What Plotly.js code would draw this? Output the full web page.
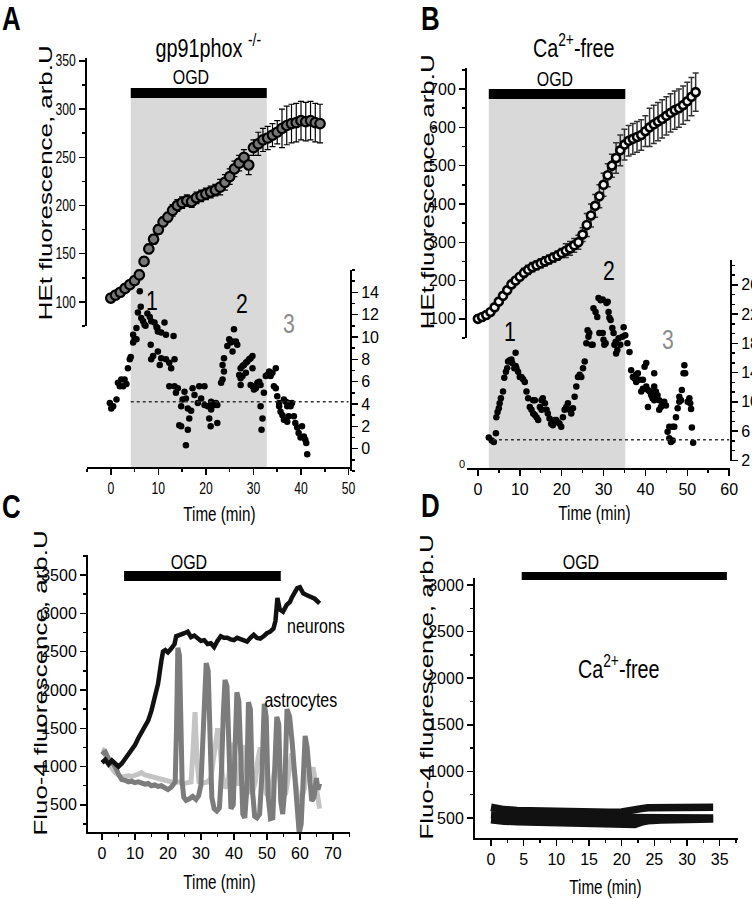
<!DOCTYPE html>
<html>
<head>
<meta charset="utf-8">
<script src="https://cdn.plot.ly/plotly-3.0.1.min.js"></script>
<style>
  body { margin: 0; background: #fff; }
  #plot { width: 752px; height: 899px; }
</style>
</head>
<body>
<div id="plot"></div>
<script>
// ---- Panel A : gp91phox -/- ----
const tA = [0,1,2,3,4,5,6,7,8,9,10,11,12,13,14,15,16,17,18,19,20,21,22,23,24,25,26,27,28,29,30,31,32,33,34,35,36,37,38,39,40,41,42,43,44];
const vA = [104,107,110,114,118,122,128,142,155,165,175,183,188,195,200,203,205,204,208,210,212,214,216,219,224,230,238,244,250,242,260,264,268,270,273,276,280,283,285,286,288,287,288,286,285];
const eA = [3,3,3,3,3,3,5,5,5,5,5,5,5,6,6,6,6,6,6,6,6,6,6,8,8,8,8,8,8,10,8,12,12,12,12,12,20,20,20,20,20,20,20,20,20];

const sAt = [-0.2,0.1,0.5,1.2,1.5,1.9,2.2,2.6,2.9,3.3,3.6,4.0,4.2,4.7,4.7,5.0,5.4,5.4,5.7,6.1,6.3,6.4,6.8,7.1,7.3,7.7,8.2,8.4,8.5,8.5,8.9,9.2,9.6,9.8,9.9,9.9,10.3,10.6,10.6,11.3,11.6,11.6,12.3,12.3,12.7,13.2,13.4,13.4,13.7,14.1,14.4,14.8,14.8,15.1,15.5,15.8,15.8,16.2,16.2,16.5,16.9,17.2,17.6,18.3,18.6,19.0,19.7,19.7,20.4,20.7,21.0,21.1,21.1,21.4,21.8,22.1,22.4,22.4,23.2,23.5,23.5,23.8,23.8,24.5,24.9,25.2,25.6,25.6,25.9,26.3,26.6,27.0,27.3,27.3,27.3,27.7,27.7,28.0,28.4,28.4,28.7,29.1,29.4,29.4,29.8,29.8,29.8,30.1,30.5,30.8,31.2,31.5,31.5,31.7,31.9,32.2,32.6,32.9,33.3,33.6,34.0,34.3,34.7,34.7,35.0,35.4,35.4,35.7,36.1,36.4,36.4,36.8,37.1,37.1,37.4,37.4,37.8,38.1,38.5,38.8,39.2,39.5,39.9,40.2,40.6,40.9,41.1,41.3];
const sAv = [4.1,3.6,3.8,4.4,5.9,5.6,6.2,5.6,6.2,5.8,7.2,8.0,8.2,9.5,10.2,9.8,9.8,10.8,12.2,14.1,12.7,11.7,11.4,11.1,11.0,12.1,11.8,9.3,11.4,8.0,8.3,11.3,10.9,10.8,10.5,8.7,7.5,10.4,8.1,11.3,10.2,8.0,7.7,5.6,7.2,10.1,8.0,5.6,5.0,5.4,2.1,3.8,2.0,4.4,5.1,4.5,0.3,3.6,1.7,2.7,3.4,5.4,4.8,4.1,5.6,4.5,5.6,3.9,3.8,2.7,2.0,4.2,3.5,3.9,3.9,4.1,3.9,2.3,5.9,6.2,7.5,6.9,8.1,9.2,9.8,9.5,9.6,8.7,10.7,9.6,9.3,6.6,6.3,5.7,7.2,7.4,6.5,7.5,7.7,6.8,7.8,8.0,8.1,5.7,8.3,7.2,5.6,5.3,5.4,5.9,6.0,5.7,3.8,1.7,2.7,5.0,6.5,6.6,6.9,6.5,6.8,5.6,7.2,5.4,4.7,4.1,3.8,3.3,3.0,4.4,2.6,4.2,3.8,2.4,4.1,2.9,3.8,4.1,2.9,2.3,1.9,1.4,1.0,2.0,1.1,0.8,0.5,-0.5];
const baseA = 4.2;
const ogdA = [4.2, 32.8];

// ---- Panel B : Ca2+-free ----
const tB = [0,1,2,3,4,5,6,7,8,9,10,11,12,13,14,15,16,17,18,19,20,21,22,23,24,25,26,27,28,29,30,31,32,33,34,35,36,37,38,39,40,41,42,43,44,45,46,47,48,49,50,51,52];
const vB = [100,105,110,118,130,145,160,175,190,200,210,220,228,235,240,245,250,255,260,265,272,278,284,292,300,320,345,370,395,420,450,475,500,520,540,555,565,570,575,580,590,600,608,615,622,630,638,645,650,658,668,680,692];
const eB = [4,4,4,4,4,4,8,8,8,8,8,12,12,12,12,12,12,12,12,12,12,18,18,18,18,18,30,30,30,30,30,30,30,40,40,40,40,40,40,40,40,50,50,50,50,50,50,50,50,50,50,50,50];

const sBt = [2.6,3.3,3.8,4.3,4.4,4.7,5.0,5.2,5.5,6.0,6.3,6.7,7.0,7.2,7.6,8.0,8.2,8.7,9.0,9.0,9.2,9.6,10.0,10.4,10.8,11.2,11.6,12.0,12.4,12.8,13.2,13.2,13.6,13.6,14.0,14.4,14.8,15.2,15.2,15.5,16.0,16.4,16.7,17.1,17.5,17.9,18.3,18.7,19.1,19.5,19.9,20.3,20.7,21.1,21.5,21.9,22.3,22.7,23.1,23.5,23.9,24.3,24.7,25.1,25.5,25.9,26.2,26.4,26.6,27.1,27.4,27.6,28.1,28.5,28.8,29.0,29.3,29.8,29.8,30.0,30.2,30.5,30.7,31.0,31.2,31.4,31.7,32.1,32.4,32.6,32.9,33.0,33.3,33.6,34.0,34.5,34.8,35.2,35.7,36.2,36.6,37.0,37.4,37.8,37.8,38.2,38.6,39.0,39.4,39.4,39.8,39.8,40.2,40.2,40.6,40.6,41.0,41.4,41.7,41.7,42.1,42.1,42.1,42.5,42.5,42.9,43.3,43.3,43.7,44.1,44.5,44.9,45.3,45.7,45.7,46.1,46.5,46.5,46.9,47.3,47.7,48.1,48.1,48.5,48.7,49.1,49.3,49.5,50.1,50.5,50.7,50.9,51.1,51.4];
const sBv = [5.1,4.7,4.5,5.7,7.9,8.6,9.1,9.8,10.5,11.4,13.3,14.1,14.6,15.5,15.7,15.8,15.3,14.6,16.7,14.9,14.6,14.1,13.4,13.4,13.1,12.7,11.4,10.5,9.3,8.9,10.2,8.4,10.2,8.2,7.9,7.5,9.3,10.2,8.9,10.5,9.8,8.9,8.4,7.7,7.0,6.8,7.5,7.5,7.2,7.0,6.6,7.9,8.9,9.3,9.8,8.9,8.4,9.1,10.7,12.1,13.4,13.7,13.4,14.6,15.5,18.0,19.8,18.9,19.4,17.8,17.8,22.8,22.3,21.6,24.2,19.4,23.9,19.4,24.0,18.5,17.8,18.0,23.5,23.7,22.3,21.5,21.2,20.1,19.4,17.8,18.2,16.6,17.1,18.7,17.8,18.9,20.2,19.1,18.0,16.8,14.3,13.4,13.2,13.7,12.7,13.9,13.0,11.4,13.0,11.8,14.8,11.8,15.3,12.1,11.6,9.3,11.4,10.9,11.4,10.5,13.9,12.1,10.2,10.7,11.4,10.9,10.2,8.9,9.3,9.8,10.0,9.5,5.9,5.0,6.6,4.5,4.7,6.6,6.6,7.9,9.1,10.0,10.7,10.2,11.6,13.9,15.0,13.9,10.0,10.5,9.8,9.0,6.5,4.4];
const baseB = 4.8;
const ogdB = [2.6, 35.2];

// ---- Panel C : Fluo-4, neurons / astrocytes ----
const tN = [0,1,2,3,4,5,6,7,8,9,10,11,12,13,14,15,16,17,18,18.5,19.2,20,21,22,22.5,23.5,25,26,27,28,29,30,31,32,33,34,35,36,37,38,39,40,41,42,43,44,45,46,47,48,49,50,51,52,52.6,53.2,53.9,54.9,56,57,57.5,58.5,59.2,60,61,62,63,64.5,66];
const vN = [1050,1090,1030,1080,1040,1000,1040,1100,1150,1210,1280,1370,1450,1520,1600,1730,1900,2080,2380,2500,2520,2490,2540,2600,2700,2710,2740,2760,2690,2710,2670,2640,2650,2600,2610,2560,2640,2700,2680,2680,2660,2650,2680,2660,2640,2630,2680,2720,2680,2670,2700,2740,2760,2800,2900,3200,3050,3020,3110,3150,3200,3280,3330,3340,3260,3240,3220,3190,3130];

const tDk = [0,0.5,1,1.5,2,3,4,5,6,7,8,9,10,11,12,13,14,15,16,17,18,19,20,21,21.6,22.2,22.6,23,23.5,23.9,24.3,24.8,25.5,26.5,27.5,28.5,29.3,30,30.5,31,31.6,32.2,32.8,33.3,34,34.8,35.6,36.2,36.8,37.3,37.9,38.5,39.1,39.8,40.4,40.9,41.5,42.1,42.7,43.3,43.9,44.4,45,45.6,46.3,47,47.8,48.5,49.2,49.8,50.4,51.1,51.8,52.4,53,53.6,54.2,54.8,55.4,56.1,56.9,57.7,58.5,59.2,59.8,60.4,61,61.6,62.2,62.9,63.6,64.3,65,65.5,66];
const vDk = [1200,1180,1190,1120,1100,1060,1000,900,830,820,800,810,790,800,780,770,780,750,760,740,750,720,700,730,760,800,1500,2550,2450,1400,800,600,560,580,610,570,620,760,1300,2100,2350,2250,1200,600,450,420,460,900,1700,2130,2050,1000,450,500,1300,1970,1850,800,380,330,700,1840,1750,700,350,330,380,900,1820,1650,600,320,330,1000,1650,1550,550,380,700,1750,1650,1300,800,400,130,250,900,1400,1250,800,550,600,850,700,780];

const tLt = [0,0.5,1,2,3,4,5,6,7,8,9,10,11,12,13,14,15,16,17,18,19,20,21,22,23,24,25,26,27,27.6,28.2,28.8,29.4,30,31,32,33,33.8,34.5,35.1,35.8,36.5,37.3,38.2,39,39.8,40.5,41.3,42.1,42.8,43.6,44.5,45.5,46.5,47.3,48,48.8,49.8,50.8,51.8,52.5,53.1,53.9,54.8,55.7,56.6,57.5,58.4,59.3,60.3,61.3,62.2,63,64,65,65.6,66];
const vLt = [1230,1220,1150,1060,980,920,880,860,870,880,870,880,900,920,890,880,870,860,850,840,820,810,800,790,800,790,780,790,800,1200,1710,1100,800,780,790,800,850,1100,1400,1500,1250,900,720,780,1100,1310,1000,750,1050,1280,1000,700,650,800,1100,1250,1000,650,600,850,1050,1120,850,600,650,950,1170,900,620,550,700,950,850,990,700,500,450];
const ogdC = [6.7, 54.2];

// ---- Panel D : Fluo-4, Ca2+-free ----
const tD = [0,1,2,4,6,8,10,12,14,16,18,20,22,23,24,26,28,30,32,33,34];
const d1 = [615,600,590,580,575,570,565,565,560,560,560,565,575,600,610,615,610,610,612,625,615];
const d2 = [535,525,520,515,510,510,505,505,510,505,500,495,490,495,500,495,500,500,500,505,500];
const d3 = [480,465,465,460,458,455,455,450,448,445,440,432,430,455,470,478,482,485,488,495,490];
const ogdD = [4.7, 36.1];

// tick values
const ticksAx = [0,10,20,30,40,50];
const ticksAl = [100,150,200,250,300,350];
const ticksAr = [0,2,4,6,8,10,12,14];
const ticksBx = [0,10,20,30,40,50,60];
const ticksBl = [100,200,300,400,500,600,700];
const ticksBr = [2,6,10,14,18,22,26];
const ticksCx = [0,10,20,30,40,50,60,70];
const ticksCy = [500,1000,1500,2000,2500,3000,3500];
const ticksDx = [0,5,10,15,20,25,30,35];
const ticksDy = [500,1000,1500,2000,2500,3000];

// ---- layout helpers (pixel -> paper) ----
const W = 752, H = 899;
const px = x => x / W;
const py = y => 1 - y / H;
const SANS = 'Liberation Sans, Arial, sans-serif';
const SQUEEZE = 0.76;   // the figure's lettering is condensed
const STRETCH = 1.4;    // rotated titles run long

function axis(o, minorDtick, minorTick0) {
    return Object.assign({
        showline: true, linecolor: '#000', linewidth: 2,
        ticks: 'outside', ticklen: 6, tickwidth: 1.5, tickcolor: '#000',
        showgrid: false, zeroline: false, fixedrange: true,
        tickmode: 'array',
        tickfont: { family: SANS, size: 16, color: '#000' },
        minor: { ticks: 'outside', ticklen: 3, tickwidth: 1.5, tickcolor: '#000',
                 dtick: minorDtick, tick0: minorTick0 || 0, showgrid: false }
    }, o);
}

function ann(text, x, y, size, extra) {
    return Object.assign({
        text: text, xref: 'paper', yref: 'paper', x: px(x), y: py(y),
        xanchor: 'center', yanchor: 'middle', showarrow: false,
        font: { family: SANS, size: size, color: '#000' }
    }, extra || {});
}

function ytitle(text, x, y) {
    return ann(text, x, y, 18.5, { textangle: -90 });
}

const traces = [
    // A
    { x: sAt, y: sAv, xaxis: 'x', yaxis: 'y2', type: 'scatter', mode: 'markers',
      marker: { size: 6.5, color: '#000' }, cliponaxis: false },
    { x: tA, y: vA, xaxis: 'x', yaxis: 'y', type: 'scatter', mode: 'markers',
      error_y: { type: 'data', array: eA, color: '#000', thickness: 1.2, width: 3 },
      marker: { size: 9.5, color: '#777', line: { color: '#000', width: 2.2 } }, cliponaxis: false },
    // B
    { x: sBt, y: sBv, xaxis: 'x2', yaxis: 'y4', type: 'scatter', mode: 'markers',
      marker: { size: 6.5, color: '#000' }, cliponaxis: false },
    { x: tB, y: vB, xaxis: 'x2', yaxis: 'y3', type: 'scatter', mode: 'markers',
      error_y: { type: 'data', array: eB, color: '#333', thickness: 1.5, width: 3 },
      marker: { size: 8, color: '#f2f2f2', line: { color: '#000', width: 2.6 } }, cliponaxis: false },
    // C
    { x: tLt, y: vLt, xaxis: 'x3', yaxis: 'y5', type: 'scatter', mode: 'lines',
      line: { color: '#c4c4c4', width: 5 } },
    { x: tDk, y: vDk, xaxis: 'x3', yaxis: 'y5', type: 'scatter', mode: 'lines',
      line: { color: '#7c7c7c', width: 5 } },
    { x: tN, y: vN, xaxis: 'x3', yaxis: 'y5', type: 'scatter', mode: 'lines',
      line: { color: '#111', width: 4.5 } },
    // D
    { x: tD, y: d1, xaxis: 'x4', yaxis: 'y6', type: 'scatter', mode: 'lines', line: { color: '#111', width: 7.5 } },
    { x: tD, y: d2, xaxis: 'x4', yaxis: 'y6', type: 'scatter', mode: 'lines', line: { color: '#111', width: 7.5 } },
    { x: tD, y: d3, xaxis: 'x4', yaxis: 'y6', type: 'scatter', mode: 'lines', line: { color: '#111', width: 7.5 } }
];

const shapes = [
    // A
    { type: 'rect', xref: 'x', yref: 'paper', x0: ogdA[0], x1: ogdA[1], y0: py(468), y1: py(98),
      fillcolor: '#d9d9d9', line: { width: 0 }, layer: 'below' },
    { type: 'rect', xref: 'x', yref: 'paper', x0: ogdA[0], x1: ogdA[1], y0: py(98), y1: py(88),
      fillcolor: '#000', line: { width: 0 } },
    { type: 'line', xref: 'x', yref: 'y2', x0: ogdA[0], x1: 50, y0: baseA, y1: baseA,
      line: { color: '#333', width: 1.5, dash: 'dot' } },
    // B
    { type: 'rect', xref: 'x2', yref: 'paper', x0: ogdB[0], x1: ogdB[1], y0: py(469), y1: py(99),
      fillcolor: '#d9d9d9', line: { width: 0 }, layer: 'below' },
    { type: 'rect', xref: 'x2', yref: 'paper', x0: ogdB[0], x1: ogdB[1], y0: py(99), y1: py(89),
      fillcolor: '#000', line: { width: 0 } },
    { type: 'line', xref: 'x2', yref: 'y4', x0: 3.6, x1: 60, y0: baseB, y1: baseB,
      line: { color: '#333', width: 1.5, dash: 'dot' } },
    // C
    { type: 'rect', xref: 'x3', yref: 'paper', x0: ogdC[0], x1: ogdC[1], y0: py(581), y1: py(571),
      fillcolor: '#000', line: { width: 0 } },
    // D
    { type: 'rect', xref: 'x4', yref: 'paper', x0: ogdD[0], x1: ogdD[1], y0: py(580), y1: py(572),
      fillcolor: '#000', line: { width: 0 } }
];

const grey3 = { font: { family: SANS, size: 28, color: '#8c8c8c' } };
const annotations = [
    ann('<b>A</b>', 11, 18, 34),
    ann('<b>B</b>', 430, 18, 34),
    ann('<b>C</b>', 12, 506, 34),
    ann('<b>D</b>', 430, 505, 34),
    ann('gp91phox <sup>-/-</sup>', 208, 46, 26),
    ann('Ca<sup>2+</sup>-free', 573, 46, 26),
    ann('Ca<sup>2+</sup>-free', 618, 667, 26),
    ann('OGD', 191, 76, 21),
    ann('OGD', 555, 79, 21),
    ann('OGD', 189, 561, 21),
    ann('OGD', 581, 561, 21),
    ann('1', 152, 301, 28),
    ann('2', 242, 304, 28),
    ann('3', 289, 323, 28, grey3),
    ann('1', 510, 331, 28),
    ann('2', 609, 270, 28),
    ann('3', 668, 340, 28, grey3),
    ann('neurons', 316, 625, 21),
    ann('astrocytes', 301, 699, 21),
    ann('0', 462, 464, 11, { font: { family: SANS, size: 11, color: '#000' }, keep: true }),
    ann('Time (min)', 219, 514, 20),
    ann('Time (min)', 594, 513, 20),
    ann('Time (min)', 219, 882, 20),
    ann('Time (min)', 605, 887, 20),
    ytitle('HEt fluorescence, arb.U', 46, 183),
    ytitle('HEt fluorescence, arb.U', 427, 192),
    ytitle('Fluo-4 fluorescence, arb.U', 40, 683),
    ytitle('Fluo-4 fluorescence, arb.U', 426, 687)
];
// 'keep' is only a local marker, not a Plotly attribute
const keepIdx = annotations.map((a, i) => a.keep ? i : -1).filter(i => i >= 0);
annotations.forEach(a => delete a.keep);

const layout = {
    width: W, height: H,
    margin: { l: 0, r: 0, t: 0, b: 0 },
    paper_bgcolor: '#fff', plot_bgcolor: 'rgba(0,0,0,0)',
    showlegend: false,
    // A
    xaxis: axis({ domain: [px(87), px(350)], range: [-5, 50.3], anchor: 'free', position: py(468),
                  tickvals: ticksAx }, 5),
    yaxis: axis({ domain: [py(326), py(58)], range: [75, 353], anchor: 'x', tickvals: ticksAl }, 25),
    yaxis2: axis({ domain: [py(471), py(270)], range: [-2, 16], anchor: 'x', side: 'right',
                   tickvals: ticksAr }, 1),
    // B
    xaxis2: axis({ domain: [px(467), px(730)], range: [-2.6, 60.2], anchor: 'free', position: py(469),
                   tickvals: ticksBx }, 5),
    yaxis3: axis({ domain: [py(338), py(68)], range: [50, 755], anchor: 'x2', tickvals: ticksBl }, 50),
    yaxis4: axis({ domain: [py(461), py(260)], range: [1.9, 29.4], anchor: 'x2', side: 'right',
                   tickvals: ticksBr }, 4 / 3, 2),
    // C
    xaxis3: axis({ domain: [px(88), px(350)], range: [-4.24, 75.2], anchor: 'y5', tickvals: ticksCx }, 5),
    yaxis5: axis({ domain: [py(832), py(555)], range: [146, 3761], anchor: 'x3', tickvals: ticksCy }, 250),
    // D
    xaxis4: axis({ domain: [px(475), px(738)], range: [-2.45, 37.8], anchor: 'y6', tickvals: ticksDx }, 2.5),
    yaxis6: axis({ domain: [py(838), py(578)], range: [285, 3075], anchor: 'x4', tickvals: ticksDy }, 250),
    shapes: shapes,
    annotations: annotations
};

// squeeze horizontal lettering, stretch the rotated axis titles
function reshapeText() {
    const fit = (el, k) => {
        const len = el.getComputedTextLength();
        if (!len) return;
        el.setAttribute('textLength', (len * k).toFixed(1));
        el.setAttribute('lengthAdjust', 'spacingAndGlyphs');
    };
    document.querySelectorAll('#plot .xtick text, #plot .ytick text').forEach(el => fit(el, SQUEEZE));
    document.querySelectorAll('#plot g.annotation').forEach(g => {
        const i = +g.getAttribute('data-index');
        const el = g.querySelector('text.annotation-text');
        if (!el || keepIdx.includes(i)) return;
        fit(el, annotations[i].textangle === -90 ? STRETCH : SQUEEZE);
    });
}

Plotly.newPlot('plot', traces, layout, { staticPlot: true }).then(reshapeText);
</script>
</body>
</html>
